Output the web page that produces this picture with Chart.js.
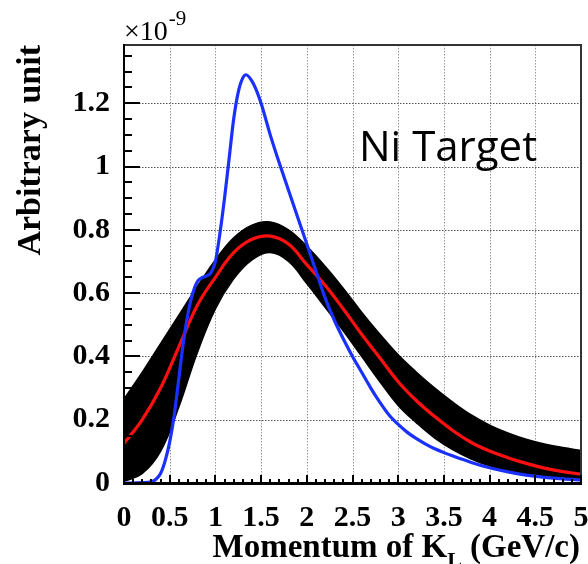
<!DOCTYPE html>
<html><head><meta charset="utf-8">
<script src="https://cdn.jsdelivr.net/npm/chart.js@4"></script>
<style>html,body{margin:0;padding:0;background:#fff}canvas{display:block}</style>
</head><body>
<canvas id="c" width="588" height="564"></canvas>
<script>
// ---- data (values in units of 1e-9) ----
const xTicks = [0,0.5,1,1.5,2,2.5,3,3.5,4,4.5,5];
const yTicks = [0,0.2,0.4,0.6,0.8,1,1.2];

const blueX = [0,0.1,0.2,0.25,0.3,0.35,0.4,0.45,0.5,0.55,0.6,0.65,0.7,0.75,0.8,0.85,0.9,0.95,1.0,1.05,1.1,1.15,1.2,1.25,1.3,1.335,1.4,1.45,1.5,1.6,1.7,1.8,1.9,2.0,2.1,2.2,2.3,2.4,2.5,2.6,2.7,2.8,2.9,3.0,3.1,3.2,3.3,3.4,3.5,3.6,3.8,4.0,4.2,4.4,4.6,4.8,5.0];
const blueY = [0,0,0.001,0.002,0.004,0.012,0.03,0.07,0.13,0.215,0.33,0.445,0.535,0.598,0.635,0.648,0.654,0.664,0.70,0.79,0.90,1.025,1.15,1.235,1.28,1.29,1.27,1.24,1.20,1.10,1.01,0.925,0.84,0.755,0.67,0.585,0.515,0.455,0.40,0.35,0.30,0.255,0.215,0.185,0.16,0.14,0.123,0.108,0.096,0.085,0.065,0.048,0.035,0.025,0.018,0.013,0.01];

const bandX  = [0,0.2,0.4,0.6,0.8,1.0,1.2,1.4,1.6,1.8,2.0,2.2,2.4,2.6,2.8,3.0,3.2,3.4,3.6,3.8,4.0,4.2,4.4,4.6,4.8,5.0];
const redY   = [0.125,0.2,0.3,0.43,0.56,0.65,0.728,0.77,0.78,0.755,0.69,0.625,0.55,0.47,0.395,0.32,0.26,0.21,0.165,0.128,0.101,0.08,0.062,0.047,0.036,0.028];
const upperY = [0.265,0.35,0.44,0.53,0.62,0.705,0.775,0.815,0.825,0.8,0.748,0.685,0.615,0.54,0.47,0.405,0.35,0.30,0.255,0.215,0.183,0.158,0.138,0.123,0.112,0.103];
const lowerY = [0.005,0.03,0.1,0.24,0.41,0.55,0.645,0.705,0.728,0.7,0.63,0.555,0.48,0.40,0.32,0.245,0.19,0.142,0.105,0.076,0.054,0.039,0.029,0.021,0.016,0.013];

const pts = (xa, ya) => xa.map((x, i) => ({x, y: ya[i]}));
const SERIF = "'Liberation Serif','Times New Roman',serif";

// dotted grid drawn as small filled squares, under the datasets
const dottedGrid = {
  id: 'dottedGrid',
  beforeDatasetsDraw(chart) {
    const ctx = chart.ctx;
    const a = chart.chartArea;
    const xs = chart.scales.x, ys = chart.scales.y;
    ctx.save();
    ctx.fillStyle = '#999';
    xTicks.forEach(v => {
      if (v === 0 || v === 5) return;
      const px = Math.round(xs.getPixelForValue(v));
      for (let yy = Math.ceil(a.top); yy < a.bottom; yy += 3) ctx.fillRect(px, yy, 1, 1.5);
    });
    ctx.fillStyle = '#555';
    yTicks.forEach(v => {
      if (v === 0) return;
      const py = Math.round(ys.getPixelForValue(v));
      for (let xx = Math.ceil(a.left); xx < a.right; xx += 3) ctx.fillRect(xx, py, 1.5, 1);
    });
    ctx.restore();
  }
};

const frameAndText = {
  id: 'frameAndText',
  afterDraw(chart) {
    const ctx = chart.ctx;
    const a = chart.chartArea;
    const xs = chart.scales.x, ys = chart.scales.y;
    const L = Math.round(a.left), R = Math.round(a.right), T = Math.round(a.top), B = Math.round(a.bottom);
    ctx.save();
    // frame (filled rectangles)
    ctx.fillStyle = '#333';
    ctx.fillRect(L, T - 1, R - L + 1, 2);
    ctx.fillRect(R - 1, T - 1, 2, B - T + 1);
    ctx.fillStyle = '#000';
    ctx.fillRect(L - 1, T - 1, 2, B - T + 2);
    ctx.fillRect(L - 1, B - 1, R - L + 2, 3);
    // inner ticks
    for (let i = 0; i <= 27; i++) {
      const py = Math.round(ys.getPixelForValue(i * 0.05));
      if (py < a.top) break;
      const len = (i % 4 === 0) ? 16 : 8;
      ctx.fillRect(L, py - 1, len, 2);
    }
    for (let i = 0; i <= 50; i++) {
      const px = Math.round(xs.getPixelForValue(i * 0.1));
      const len = (i % 5 === 0) ? 8 : 4;
      ctx.fillRect(px - 1, B - len, 2, len);
    }
    ctx.textBaseline = 'alphabetic';
    ctx.textAlign = 'left';
    // multiplier
    ctx.font = `28px ${SERIF}`;
    ctx.fillText('\u00d710', a.left, 40);
    const w = ctx.measureText('\u00d710').width;
    ctx.font = `21px ${SERIF}`;
    ctx.fillText('-9', a.left + w + 1, 25);
    // Ni Target
    ctx.font = `42px 'Open Sans','Liberation Sans',sans-serif`;
    ctx.fillText('Ni Target', 359, 161);
    // x title
    const big = `bold 33px ${SERIF}`, small = `bold 22px ${SERIF}`;
    const p1 = 'Momentum of K', p3 = ' (GeV/c)';
    ctx.font = big;
    const w1 = ctx.measureText(p1).width, w3 = ctx.measureText(p3).width;
    ctx.font = small;
    const w2 = ctx.measureText('L').width;
    const sx = 580 - (w1 + w2 + w3);
    ctx.font = big;
    ctx.fillText(p1, sx, 557);
    ctx.font = small;
    ctx.fillText('L', sx + w1, 567);
    ctx.font = big;
    ctx.fillText(p3, sx + w1 + w2, 557);
    // y title
    ctx.translate(40, 45);
    ctx.rotate(-Math.PI / 2);
    ctx.textAlign = 'right';
    ctx.font = `bold 34px ${SERIF}`;
    ctx.fillText('Arbitrary unit', 0, 0);
    ctx.restore();
  }
};

const tickFont = {family: SERIF, size: 30, weight: 'bold'};

new Chart(document.getElementById('c'), {
  type: 'line',
  data: {
    datasets: [
      {label: 'blue', data: pts(blueX, blueY), borderColor: '#1a30ff', borderWidth: 3.2, pointRadius: 0, fill: false, cubicInterpolationMode: 'monotone', order: 0},
      {label: 'red', data: pts(bandX, redY), borderColor: '#ff1010', borderWidth: 3.2, pointRadius: 0, fill: false, tension: 0.4, order: 1},
      {label: 'upper', data: pts(bandX, upperY), borderColor: '#000', backgroundColor: '#000', borderWidth: 1.5, pointRadius: 0, fill: '+1', tension: 0.4, order: 2},
      {label: 'lower', data: pts(bandX, lowerY), borderColor: '#000', borderWidth: 1.5, pointRadius: 0, fill: false, tension: 0.4, order: 3}
    ]
  },
  options: {
    responsive: false,
    animation: false,
    layout: {padding: {left: 0, right: 7, top: 45, bottom: 0}},
    plugins: {legend: {display: false}, tooltip: {enabled: false}},
    scales: {
      x: {
        type: 'linear', min: 0, max: 5,
        afterFit(s) { s.height = 81; s.paddingLeft = 0; s.paddingRight = 0; },
        afterBuildTicks(s) { s.ticks = xTicks.map(v => ({value: v})); },
        grid: {display: false},
        border: {display: false},
        ticks: {font: tickFont, color: '#000', padding: 9, maxRotation: 0, autoSkip: false, callback: v => String(v)}
      },
      y: {
        type: 'linear', min: 0, max: 1.384,
        afterFit(s) { s.width = 124; s.paddingTop = 0; s.paddingBottom = 0; },
        afterBuildTicks(s) { s.ticks = yTicks.map(v => ({value: v})); },
        grid: {display: false},
        border: {display: false},
        ticks: {font: tickFont, color: '#000', padding: 6, autoSkip: false, callback: v => String(v)}
      }
    }
  },
  plugins: [dottedGrid, frameAndText]
});
</script>
</body></html>
